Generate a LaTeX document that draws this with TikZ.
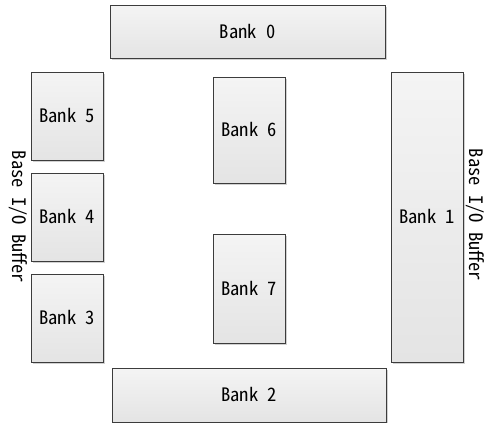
\documentclass[tikz,border=0pt]{standalone}
\usepackage{fontspec}
\setmainfont[RawFeature=+hwid]{Noto Sans CJK SC}
\usetikzlibrary{positioning, shadows}
\definecolor{banktop}{HTML}{F4F4F4}
\definecolor{bankbot}{HTML}{E4E4E4}
\definecolor{bankline}{HTML}{3C3C3C}

\begin{document}
\begin{tikzpicture}[x=1pt, y=-1pt,
  bankbox/.style={draw=bankline, line width=0.9pt, top color=banktop, bottom color=bankbot,
    drop shadow={shadow xshift=1.6pt, shadow yshift=-1.6pt, fill=black, opacity=0.18},
    inner sep=0pt, font=\fontsize{18.5}{21}\selectfont},
  buflabel/.style={font=\fontsize{18.5}{21}\selectfont, rotate=-90, inner sep=0pt}]
  \useasboundingbox (0,0) rectangle (485,423);
  %% Banks around the edge
  \node[bankbox, minimum width=275pt, minimum height=53pt] (bank0) at (247.5,31.5) {Bank 0};
  \node[bankbox, minimum width=72pt, minimum height=290pt] (bank1) at (427,217) {Bank 1};
  \node[bankbox, minimum width=274pt, minimum height=54pt] (bank2) at (249,395) {Bank 2};
  % left column
  \node[bankbox, minimum width=72pt, minimum height=88pt] (bank3) at (67,318) {Bank 3};
  \node[bankbox, minimum width=72pt, minimum height=88pt] (bank4) at (67,217) {Bank 4};
  \node[bankbox, minimum width=72pt, minimum height=88pt] (bank5) at (67,116) {Bank 5};
  % middle column
  \node[bankbox, minimum width=72pt, minimum height=106pt] (bank6) at (249,130) {Bank 6};
  \node[bankbox, minimum width=72pt, minimum height=109pt] (bank7) at (249,288.5) {Bank 7};
  % I/O buffer labels
  \node[buflabel] (bufleft) at (18,217) {Base I/O Buffer};
  \node[buflabel] (bufright) at (475,215) {Base I/O Buffer};
\end{tikzpicture}
\end{document}
